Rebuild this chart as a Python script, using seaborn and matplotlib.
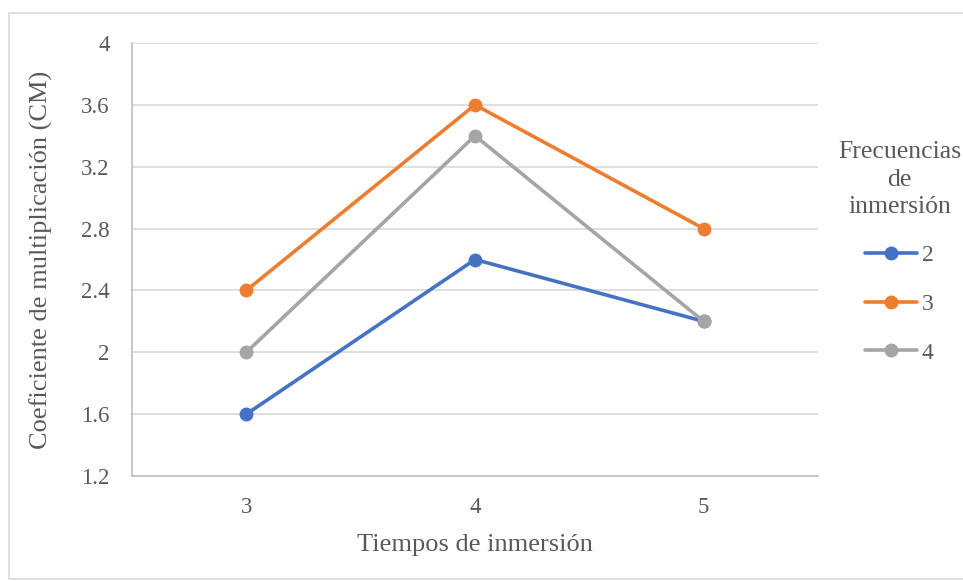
import pandas as pd
import matplotlib.pyplot as plt
import matplotlib.patches as mpatches
import seaborn as sns

# data
tiempos = ['3', '4', '5']
freq_2 = [1.6, 2.6, 2.2]
freq_3 = [2.4, 3.6, 2.8]
freq_4 = [2.0, 3.4, 2.2]
series_names = ['2', '3', '4']
colors = ['#4472C4', '#ED7D31', '#A5A5A5']
yticks = [1.2, 1.6, 2, 2.4, 2.8, 3.2, 3.6, 4]

rows = []
for name, vals in zip(series_names, [freq_2, freq_3, freq_4]):
    for t, v in zip(tiempos, vals):
        rows.append({'Tiempos': t, 'CM': v, 'Frecuencia': name})
d = pd.DataFrame(rows)

sns.set_style('white')
plt.rcParams['font.family'] = ['Liberation Serif', 'DejaVu Serif']
txtcol = '#595959'

fig = plt.figure(figsize=(9.63, 5.81), dpi=100)
ax = fig.add_axes([132/963, 1 - 476/581, (818 - 132)/963, (476 - 43)/581])

sns.lineplot(data=d, x='Tiempos', y='CM', hue='Frecuencia', palette=colors,
             marker='o', markersize=10, markeredgewidth=0, linewidth=2.6,
             sort=False, ax=ax)

ax.set_xlim(-0.5, 2.5)
ax.set_ylim(1.2, 4)
ax.set_yticks(yticks)
ax.set_yticklabels([f'{v:g}' for v in yticks])
ax.grid(axis='y', color='#D9D9D9', linewidth=1.2)
ax.set_axisbelow(True)
for s in ['top', 'right']:
    ax.spines[s].set_visible(False)
ax.spines['left'].set_color('#BFBFBF')
ax.spines['bottom'].set_color('#BFBFBF')
ax.spines['left'].set_linewidth(1.2)
ax.spines['bottom'].set_linewidth(1.2)
ax.tick_params(axis='both', length=0, labelsize=16.5, labelcolor=txtcol)
ax.tick_params(axis='x', pad=15)
ax.tick_params(axis='y', pad=16)

ax.set_xlabel('Tiempos de inmersión', fontsize=19, color=txtcol, labelpad=12)
ax.set_ylabel('Coeficiente de multiplicación (CM)', fontsize=19, color=txtcol, labelpad=20)

leg = ax.legend(title='Frecuencias\nde\ninmersión', frameon=False,
                loc='center left', bbox_to_anchor=(0.998, 0.516),
                fontsize=17, title_fontsize=18.5, labelspacing=1.15,
                handlelength=2.2, handletextpad=0.2, alignment='center')
for t in leg.get_texts():
    t.set_color(txtcol)
leg.get_title().set_color(txtcol)
leg.get_title().set_multialignment('center')
leg.get_title().set_linespacing(1.3)

# chart outer border
fig.patches.append(mpatches.Rectangle((9/963, 2/581), 1, 1 - 15/581,
                                      transform=fig.transFigure, fill=False,
                                      edgecolor='#D9D9D9', linewidth=1.2))

plt.savefig('out.png', dpi=100)
